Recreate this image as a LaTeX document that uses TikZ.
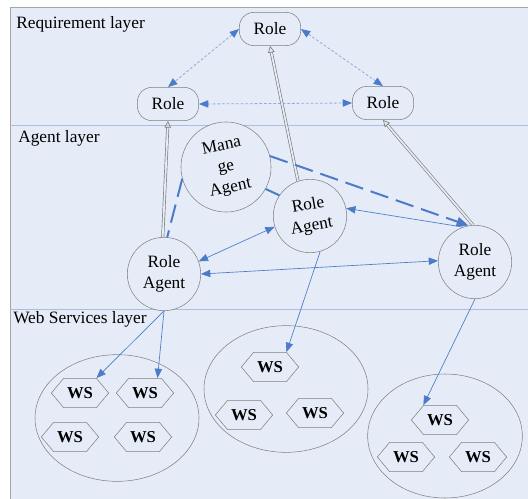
\documentclass[tikz,border=0pt]{standalone}
\usepackage{fontspec}
\setmainfont{Liberation Serif}
\usetikzlibrary{arrows.meta, positioning, shapes.geometric, shapes.symbols, calc}
\definecolor{bgblue}{HTML}{E6ECF7}
\definecolor{lineblue}{HTML}{A8BFE2}
\definecolor{arrowblue}{HTML}{4A7CC9}
\definecolor{dotblue}{HTML}{8FAADC}
\definecolor{edgegray}{HTML}{7F7F7F}
\newcommand{\Lines}[2][0]{\rotatebox{#1}{\begin{tabular}{@{}c@{}}#2\end{tabular}}}
\tikzset{
    bluetip/.tip={Triangle[length=7pt, width=5.5pt, color=arrowblue]},
    bigtip/.tip={Triangle[length=9pt, width=7pt, color=arrowblue]},
    role/.style={draw=edgegray, fill=bgblue, rounded corners=11pt, minimum width=46pt,
      minimum height=25pt, font=\fontsize{13}{15}\selectfont},
    agent/.style={circle, draw=edgegray, fill=bgblue, minimum size=55pt, inner sep=0pt,
      align=center, font=\fontsize{13}{16}\selectfont},
    cluster/.style={ellipse, draw=edgegray, fill=bgblue, inner sep=0pt},
    ws/.style={signal, signal to=west and east, signal pointer angle=100, draw=edgegray,
      fill=bgblue, minimum width=43pt, minimum height=22pt, inner sep=1pt,
      font=\fontsize{12.5}{14}\selectfont\bfseries},
    layer/.style={anchor=base west, inner sep=0pt, font=\fontsize{13}{15}\selectfont},
}

\begin{document}
\begin{tikzpicture}[x=0.75pt, y=-0.75pt]
    \tikzset{
      peer/.style={draw=dotblue, line width=0.6pt, dash pattern=on 2pt off 1.5pt, bluetip-bluetip},
      realize/.style={draw=edgegray, double=bgblue, double distance=1.3pt, line width=0.5pt,
        -{Triangle[open, length=5pt, width=5pt]}},
      manage/.style={draw=arrowblue, line width=1.5pt},
      managedash/.style={manage, dash pattern=on 14pt off 6pt},
      talk/.style={draw=arrowblue, line width=0.5pt, bluetip-bluetip},
      invoke/.style={draw=arrowblue, line width=0.5pt, -bluetip}
    }
    \useasboundingbox (0,0) rectangle (528,499);
    \fill[bgblue] (10,7) rectangle (528,499);
    \draw[gray!70] (528,7) -- (10,7) -- (10,499);
    \draw[lineblue] (10,125) -- (528,125);
    \draw[lineblue] (10,309) -- (528,309);

    \node[layer] (reqlayer) at (16,29) {Requirement layer};
    \node[layer] (agentlayer) at (18,143) {Agent layer};
    \node[layer] (wslayer) at (13,323) {Web Services layer};

    \node[role] (trole) at (270,29) {Role};
    \node[role] (lrole) at (168,104) {Role};
    \node[role] (rrole) at (383,103) {Role};

    \node[agent] (manage) at (226,167) {\fontsize{13}{16}\selectfont\Lines[12]{Mana\\ge\\Agent}};
    \node[agent] (cagent) at (310,216) {\Lines[10]{Role\\Agent}};
    \node[agent] (lagent) at (164,274) {Role\\Agent};
    \node[agent] (ragent) at (475,262) {Role\\Agent};

    \node[cluster, minimum width=123pt, minimum height=95pt] (c1) at (117,418) {};
    \node[cluster, minimum width=123pt, minimum height=95pt] (c2) at (286,389) {};
    \node[cluster, minimum width=116pt, minimum height=93pt] (c3) at (445,436) {};

    \node[ws] (ws1) at (80,393) {WS};
    \node[ws] (ws2) at (145,393) {WS};
    \node[ws] (ws3) at (70,437) {WS};
    \node[ws] (ws4) at (143,437) {WS};
    \node[ws] (ws5) at (270,367) {WS};
    \node[ws] (ws6) at (244,415) {WS};
    \node[ws] (ws7) at (315,413) {WS};
    \node[ws] (ws8) at (440,420) {WS};
    \node[ws] (ws9) at (406,457) {WS};
    \node[ws] (ws10) at (478,457) {WS};

    \draw[peer] (trole.west) -- (lrole.north);
    \draw[peer] (trole.east) -- (rrole.north);
    \draw[peer] (lrole.east) -- (rrole.west);

    \draw[realize] (lagent.92) -- (lrole.south);
    \draw[realize] (cagent.109) -- (trole.south);
    \draw[realize] (ragent.93) -- (rrole.south);

    \draw[manage] (manage.-29) -- (cagent.146);
    \draw[managedash] (manage.195) -- (lagent.85);
    \draw[managedash, -bigtip] (manage.14) -- (ragent.100);

    \draw[talk] (lagent.20) -- (cagent.197);
    \draw[talk] (lagent.east) -- (ragent.178);
    \draw[invoke] (ragent.109) -- (cagent.12);

    \draw[invoke] (lagent.south) -- (ws1.north east);
    \draw[invoke] (lagent.south) -- (ws2.50);
    \draw[invoke] (cagent.-74) -- (ws5.north east);
    \draw[invoke] (ragent.south) -- (ws8.north west);
\end{tikzpicture}
\end{document}
